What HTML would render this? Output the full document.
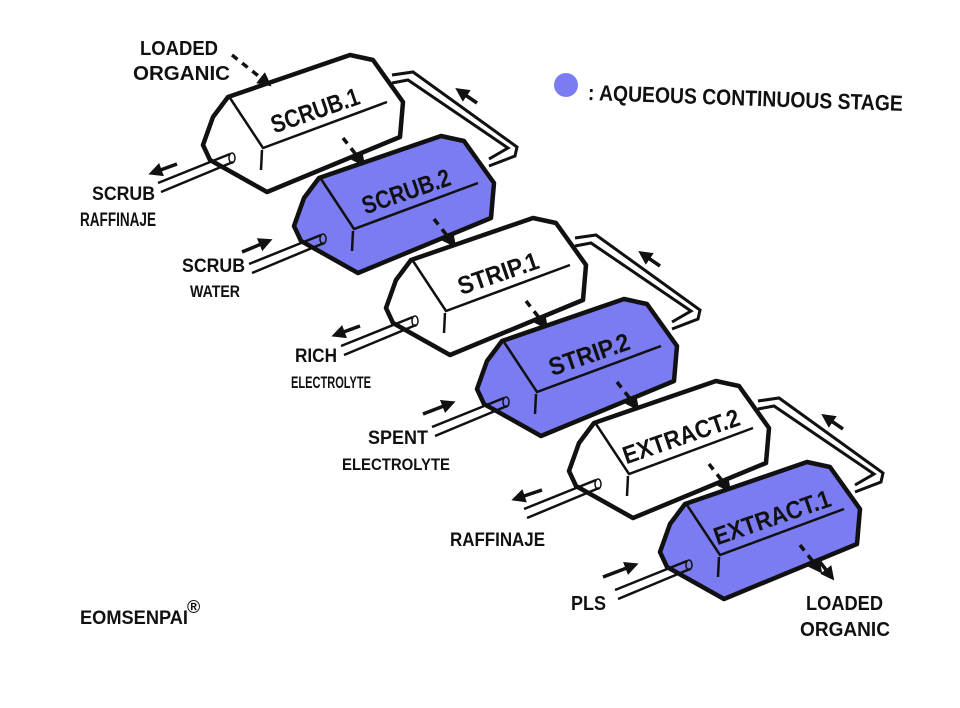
<!DOCTYPE html>
<html><head><meta charset="utf-8"><style>
html,body{margin:0;padding:0;background:#fff;}
svg{display:block;}
text{font-family:"Liberation Sans Narrow","Liberation Sans",sans-serif;font-weight:bold;fill:#111;}
</style></head><body>
<svg width="960" height="708" viewBox="0 0 960 708" xmlns="http://www.w3.org/2000/svg">
<defs>
<marker id="ah" viewBox="0 0 10 10" refX="5" refY="5" markerWidth="4" markerHeight="4" orient="auto"><path d="M0,0 L10,5 L0,10 z" fill="#111"/></marker>
<g id="box">
  <polygon points="25,42 147,0 170,5 200,47 197,82 64,137 7,105 0,90 10,62" stroke="#111" stroke-width="4.5" stroke-linejoin="round"/>
  <path d="M27,43 L60,93 L184,47 M59,95 L58,115" fill="none" stroke="#111" stroke-width="2.5"/>
  <path d="M27,99 L-45,128 M30,107 L-42,137" stroke="#111" stroke-width="2.5" fill="none"/>
  <ellipse cx="29" cy="103" rx="3" ry="5" fill="none" stroke="#111" stroke-width="1.5"/>
</g>
<g id="loop">
  <path d="M189,20 L210,17 L314,92 L312,101 L286,111 M189,28 L205,25 L305,93 L286,104" fill="none" stroke="#111" stroke-width="3"/>
  <line x1="274" y1="48" x2="258" y2="37" stroke="#111" stroke-width="3.5" marker-end="url(#ah)"/>
</g>
<g id="dash">
  <line x1="140" y1="83" x2="158" y2="106" stroke="#111" stroke-width="3.5" stroke-dasharray="7,6" marker-end="url(#ah)"/>
</g>
</defs>

<g transform="translate(203,55)"><use href="#loop"/><use href="#box" fill="#fff"/><use href="#dash"/>
  <text x="112" y="64" font-size="25" text-anchor="middle" textLength="92" lengthAdjust="spacingAndGlyphs" transform="rotate(-19 112 55)">SCRUB.1</text></g>
<g transform="translate(294,136)"><use href="#box" fill="#7b7bf2"/><use href="#dash"/>
  <text x="112" y="64" font-size="25" text-anchor="middle" textLength="92" lengthAdjust="spacingAndGlyphs" transform="rotate(-19 112 55)">SCRUB.2</text></g>
<g transform="translate(386,218)"><use href="#loop"/><use href="#box" fill="#fff"/><use href="#dash"/>
  <text x="112" y="64" font-size="25" text-anchor="middle" textLength="84" lengthAdjust="spacingAndGlyphs" transform="rotate(-19 112 55)">STRIP.1</text></g>
<g transform="translate(477,299)"><use href="#box" fill="#7b7bf2"/><use href="#dash"/>
  <text x="112" y="64" font-size="25" text-anchor="middle" textLength="84" lengthAdjust="spacingAndGlyphs" transform="rotate(-19 112 55)">STRIP.2</text></g>
<g transform="translate(569,381)"><use href="#loop"/><use href="#box" fill="#fff"/><use href="#dash"/>
  <text x="112" y="64" font-size="25" text-anchor="middle" textLength="122" lengthAdjust="spacingAndGlyphs" transform="rotate(-19 112 55)">EXTRACT.2</text></g>
<g transform="translate(660,462)"><use href="#box" fill="#7b7bf2"/><use href="#dash"/>
  <text x="112" y="64" font-size="25" text-anchor="middle" textLength="122" lengthAdjust="spacingAndGlyphs" transform="rotate(-19 112 55)">EXTRACT.1</text></g>

<text x="140" y="55" font-size="20" textLength="78" lengthAdjust="spacingAndGlyphs">LOADED</text>
<text x="133" y="80" font-size="20" textLength="97" lengthAdjust="spacingAndGlyphs">ORGANIC</text>
<line x1="232" y1="55" x2="266" y2="82" stroke="#111" stroke-width="3.5" stroke-dasharray="7,6" marker-end="url(#ah)"/>

<circle cx="566" cy="85" r="12" fill="#7b7bf2"/>
<text x="588" y="100" font-size="22" textLength="315" lengthAdjust="spacingAndGlyphs" transform="rotate(2 588 92)">: AQUEOUS CONTINUOUS STAGE</text>

<line x1="177" y1="164" x2="155" y2="172" stroke="#111" stroke-width="3.5" marker-end="url(#ah)"/>
<text x="92" y="200" font-size="19" textLength="63" lengthAdjust="spacingAndGlyphs">SCRUB</text>
<text x="80" y="226" font-size="19" textLength="76" lengthAdjust="spacingAndGlyphs">RAFFINAJE</text>

<line x1="242" y1="252" x2="266" y2="242" stroke="#111" stroke-width="3.5" marker-end="url(#ah)"/>
<text x="182" y="272" font-size="19" textLength="63" lengthAdjust="spacingAndGlyphs">SCRUB</text>
<text x="190" y="297" font-size="17" textLength="50" lengthAdjust="spacingAndGlyphs">WATER</text>

<line x1="360" y1="326" x2="338" y2="334" stroke="#111" stroke-width="3.5" marker-end="url(#ah)"/>
<text x="295" y="362" font-size="19" textLength="42" lengthAdjust="spacingAndGlyphs">RICH</text>
<text x="291" y="388" font-size="17" textLength="80" lengthAdjust="spacingAndGlyphs">ELECTROLYTE</text>

<line x1="423" y1="414" x2="449" y2="404" stroke="#111" stroke-width="3.5" marker-end="url(#ah)"/>
<text x="368" y="444" font-size="19" textLength="60" lengthAdjust="spacingAndGlyphs">SPENT</text>
<text x="342" y="470" font-size="17" textLength="108" lengthAdjust="spacingAndGlyphs">ELECTROLYTE</text>

<line x1="542" y1="490" x2="518" y2="498" stroke="#111" stroke-width="3.5" marker-end="url(#ah)"/>
<text x="450" y="546" font-size="19" textLength="95" lengthAdjust="spacingAndGlyphs">RAFFINAJE</text>

<line x1="603" y1="577" x2="632" y2="566" stroke="#111" stroke-width="3.5" marker-end="url(#ah)"/>
<text x="571" y="610" font-size="20" textLength="35" lengthAdjust="spacingAndGlyphs">PLS</text>

<line x1="820" y1="562" x2="830" y2="575" stroke="#111" stroke-width="3.5" marker-end="url(#ah)"/>
<text x="806" y="610" font-size="20" textLength="77" lengthAdjust="spacingAndGlyphs">LOADED</text>
<text x="800" y="636" font-size="20" textLength="90" lengthAdjust="spacingAndGlyphs">ORGANIC</text>

<text x="80" y="624" font-size="19" textLength="108" lengthAdjust="spacingAndGlyphs">EOMSENPAI</text>
<text x="187" y="613" font-size="18">®</text>
</svg>
</body></html>
